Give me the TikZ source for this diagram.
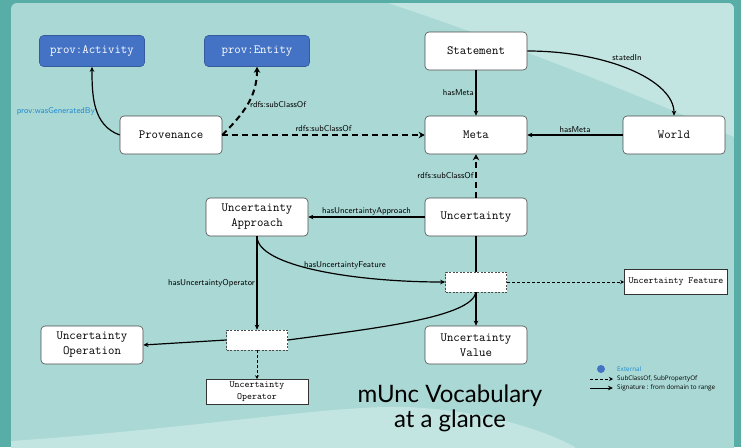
\documentclass[tikz,border=0pt]{standalone}
\usepackage{fontspec}
\newfontfamily\titlefont{Lato}
\newfontfamily\legendfont{Open Sans}
\usetikzlibrary{arrows.meta}
\definecolor{outer teal}{HTML}{58AEA7}
\definecolor{panel color}{HTML}{AAD8D4}
\definecolor{light panel}{HTML}{C3E5E2}
\definecolor{external blue}{HTML}{4472C4}
\definecolor{label blue}{HTML}{1E8AD2}
\tikzset{
    x={1pt},
    y={-1pt},
    class/.style={
        draw=black!70, fill=white,
        rounded corners={4pt},
        line width={0.6pt},
        font={\fontsize{12.5}{15}\selectfont\ttfamily},
        align=center,
        inner sep=0pt,
        minimum width={102},
        minimum height={38},
    },
    external/.style={
        class,
        draw=external blue!80!black, fill=external blue,
        text=white,
        minimum width={105},
        minimum height={31},
    },
    literal/.style={
        draw=black!80, fill=white,
        line width={0.6pt},
        font={\fontsize{9.5}{12}\selectfont\ttfamily},
        align=center,
        inner sep=2pt,
        minimum width={102},
        minimum height={25},
    },
    hub/.style={
        draw=black!70, fill=white,
        dash pattern=on 2pt off 1.5pt,
        line width={0.6pt},
        inner sep=0pt,
        minimum width={61},
        minimum height={20},
    },
    signature/.style={
        draw=black, line width={1.2pt},
        -{Stealth[length=5pt,width=4.5pt]},
    },
    link/.style={
        draw=black, line width={1.2pt},
    },
    subclass/.style={
        draw=black, line width={2pt},
        dash pattern=on 6pt off 4pt,
        -{Stealth[length=6pt,width=6.5pt]},
    },
    thin subclass/.style={
        draw=black, line width={0.8pt},
        dash pattern=on 3pt off 2pt,
        -{Stealth[length=4pt,width=4pt]},
    },
    edge label/.style={
        font={\fontsize{8.5}{9}\selectfont\sffamily},
        inner sep=1.5pt,
    },
    legend text/.style={
        font={\fontsize{6.3}{7}\selectfont\legendfont},
        anchor=west,
        inner sep=0pt,
    },
}

\begin{document}
\begin{tikzpicture}
\useasboundingbox (0,0) rectangle (741,447);
% background
\fill[outer teal] (0,0) rectangle (741,447);
\begin{scope}
\clip[rounded corners={6pt}] (11,3) rectangle (734,460);
\fill[panel color] (11,3) rectangle (734,460);
\fill[light panel] (388,3) .. controls (500,40) and (640,95) .. (734,137) -- (734,3) -- cycle;
\fill[light panel] (11,441) .. controls (200,428) and (330,405) .. (405,407) .. controls (480,410) and (540,428) .. (575,447) -- (575,460) -- (11,460) -- cycle;
\end{scope}
% classes
\node[external] (activity) at (92,51) {prov:Activity};
\node[external] (entity) at (257,51) {prov:Entity};
\node[class] (statement) at (476,51) {Statement};
\node[class] (provenance) at (171,135) {Provenance};
\node[class] (meta) at (476,135) {Meta};
\node[class] (world) at (674,135) {World};
\node[class] (approach) at (257,217) {Uncertainty\\Approach};
\node[class] (uncertainty) at (476,217) {Uncertainty};
\node[hub] (featurehub) at (476,282) {};
\node[literal, minimum width={103}] (feature) at (676,282) {Uncertainty Feature};
\node[class] (operation) at (92,345) {Uncertainty\\Operation};
\node[hub] (operatorhub) at (257,340) {};
\node[class] (value) at (476,345) {Uncertainty\\Value};
\node[literal, minimum height={25}] (operator) at (257,392) {Uncertainty\\Operator};
% properties
\draw[signature] (provenance.west) to[out=160,in=-90] node[edge label, left, pos=0.45, text=label blue] {prov:wasGeneratedBy} (activity.south);
\draw[subclass] (provenance.east) to[out=45,in=-90] node[edge label, right, pos=0.5] {rdfs:subClassOf} (entity.south);
\draw[subclass] (provenance) -- node[edge label, above, yshift=1] {rdfs:subClassOf} (meta);
\draw[signature] (statement) -- node[edge label, left] {hasMeta} (meta);
\draw[signature] (statement.east) .. controls +(81,0) and +(0,-35) .. node[edge label, above right, pos=0.38] {statedIn} (world.north);
\draw[signature] (world) -- node[edge label, above] {hasMeta} (meta);
\draw[subclass] (uncertainty) -- node[edge label, left] {rdfs:subClassOf} (meta);
\draw[signature] (uncertainty) -- node[edge label, above] {hasUncertaintyApproach} (approach);
\draw[link] (uncertainty) -- (featurehub);
\draw[signature] (approach.south) .. controls +(0,30) and +(-90,0) .. node[edge label, above=4pt, pos=0.62] {hasUncertaintyFeature} (featurehub.west);
\draw[signature] (approach.south) -- node[edge label, left] {hasUncertaintyOperator} (operatorhub.north);
\draw[thin subclass] (featurehub) -- (feature);
\draw[signature] (featurehub) -- (value);
\draw[link] (featurehub.south) .. controls +(-5,25) and +(90,-12) .. (operatorhub.east);
\draw[signature] (operatorhub.west) -- (operation.east);
\draw[thin subclass] (operatorhub) -- (operator);
% title
\node[font={\fontsize{24}{25}\selectfont\titlefont}, align=center] (title) at (450,408) {mUnc Vocabulary\\at a glance};
% legend
\node[circle, fill=external blue, minimum size={8}, inner sep=0pt] (external dot) at (601,369) {};
\node[legend text, text=label blue] (external text) at (617,369) {External};
\coordinate (subclass start) at (590,379);
\node[legend text] (subclass text) at (617,379) {SubClassOf, SubPropertyOf};
\coordinate (signature start) at (590,388);
\node[legend text] (signature text) at (617,388) {Signature : from domain to range};
\draw[thin subclass] (subclass start) -- ([xshift=-4]subclass text.west);
\draw[signature, line width={0.9pt}] (signature start) -- ([xshift=-4]signature text.west);
\end{tikzpicture}
\end{document}
